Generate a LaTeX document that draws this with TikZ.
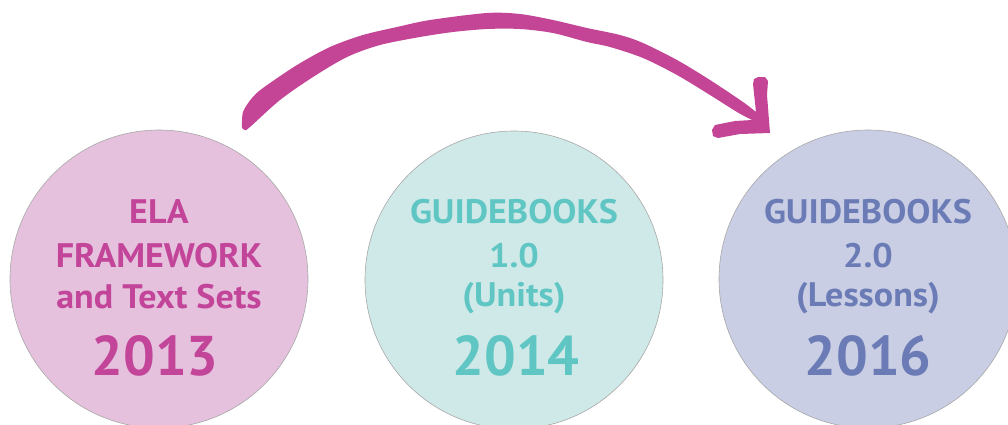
\documentclass[tikz,border=0pt]{standalone}
\usepackage{fontspec}
\setmainfont{PT Sans}
\definecolor{pinkfill}{HTML}{E5C1DD}
\definecolor{pinktext}{HTML}{C2459A}
\definecolor{tealfill}{HTML}{CFE9E8}
\definecolor{tealtext}{HTML}{5FC6C4}
\definecolor{bluefill}{HTML}{C9CEE4}
\definecolor{bluetext}{HTML}{6A7BB6}
\definecolor{arrowcol}{HTML}{C44496}
\definecolor{rimcol}{HTML}{A8A8A8}
\tikzset{
  disc/.style={circle, draw=rimcol, line width=0.6pt, minimum size=298pt, inner sep=0pt},
  txt/.style={anchor=base, inner sep=0pt, font=\fontsize{34}{34}\selectfont\bfseries, xscale=1.06},
  year/.style={anchor=base, inner sep=0pt, font=\fontsize{56}{56}\selectfont\bfseries},
}
\begin{document}
\begin{tikzpicture}[x=1pt,y=-1pt]
\useasboundingbox (0,0) rectangle (1008,424);
\clip (0,0) rectangle (1008,424);
\fill[white] (0,0) rectangle (1008,424);
% circles
\node[disc, fill=pinkfill] (c1) at (159,279) {};
\node[disc, fill=tealfill] (c2) at (514,280) {};
\node[disc, fill=bluefill] (c3) at (868,279) {};
% texts circle 1
\node[txt, text=pinktext] (a1) at (159,223) {ELA};
\node[txt, text=pinktext] (a2) at (159,267) {FRAMEWORK};
\node[txt, text=pinktext] (a3) at (159,308) {and Text Sets};
\node[year, text=pinktext] (a4) at (155,375) {2013};
% texts circle 2
\node[txt, text=tealtext] (b1) at (514,223) {GUIDEBOOKS};
\node[txt, text=tealtext] (b2) at (514,267) {1.0};
\node[txt, text=tealtext] (b3) at (514,306) {(Units)};
\node[year, text=tealtext] (b4) at (516,375) {2014};
% texts circle 3
\node[txt, text=bluetext] (d1) at (868,223) {GUIDEBOOKS};
\node[txt, text=bluetext] (d2) at (868,267) {2.0};
\node[txt, text=bluetext] (d3) at (868,306) {(Lessons)};
\node[year, text=bluetext] (d4) at (868,375) {2016};
% brush arrow
\coordinate (tail) at (242,128);
\coordinate (tip) at (770,133);
\fill[arrowcol]
  plot[smooth, tension=0.5] coordinates {(242,128) (243,112) (252,98) (263,88) (297,65) (330,47) (363,35) (397,27) (430,20) (487,13) (520,14) (553,20) (587,28) (620,35) (643,43) (677,60) (710,80) (743,102) (756,112)}
  -- (753,84) -- (754,79) -- (758,77) -- (765,77) -- (768,81) -- (767,95) -- (770,133)
  -- (740,134) -- (718,138) -- (713,136) -- (712,130) -- (715,125) -- (735,121) -- (752,120)
  -- plot[smooth, tension=0.5] coordinates {(752,120) (737,112) (710,95) (677,75) (643,58) (610,47) (587,42) (553,33) (520,29) (487,29) (453,32) (420,37) (380,45) (347,57) (313,77) (280,100) (250,127) (245,130) (242,128)}
  -- cycle;
\end{tikzpicture}
\end{document}
